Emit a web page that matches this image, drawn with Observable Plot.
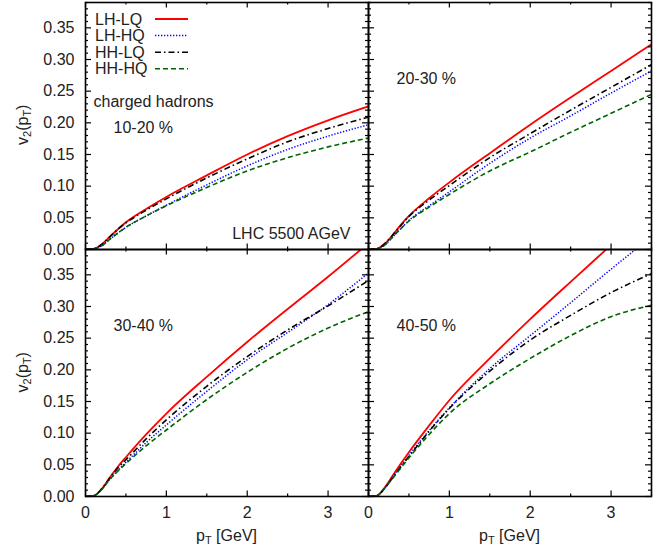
<!DOCTYPE html>
<html>
<head>
<meta charset="utf-8">
<script src="https://cdn.jsdelivr.net/npm/d3@7"></script>
<script src="https://cdn.jsdelivr.net/npm/@observablehq/plot@0.6"></script>
<style>
  body { margin: 0; background: white; }
</style>
</head>
<body>
<div id="chart"></div>
<script>
// ---------- data ----------
const pT = [0, 0.1, 0.2, 0.3, 0.4, 0.5, 0.75, 1, 1.5, 2, 2.5, 3, 3.5];
const seriesNames = ["LH-LQ", "LH-HQ", "HH-LQ", "HH-HQ"];
const centralities = ["10-20 %", "20-30 %", "30-40 %", "40-50 %"];

// 10-20 %
const lhlq_10_20 = [0, 0.001, 0.008, 0.020, 0.032, 0.043, 0.064, 0.083, 0.117, 0.150, 0.179, 0.204, 0.226];
const lhhq_10_20 = [0, 0.001, 0.006, 0.016, 0.026, 0.035, 0.053, 0.070, 0.102, 0.132, 0.158, 0.179, 0.197];
const hhlq_10_20 = [0, 0.001, 0.008, 0.020, 0.032, 0.042, 0.062, 0.080, 0.113, 0.143, 0.170, 0.191, 0.209];
const hhhq_10_20 = [0, 0.001, 0.006, 0.016, 0.026, 0.035, 0.053, 0.069, 0.098, 0.124, 0.145, 0.162, 0.176];
// 20-30 %
const lhlq_20_30 = [0, 0.001, 0.009, 0.023, 0.039, 0.053, 0.081, 0.106, 0.152, 0.197, 0.240, 0.282, 0.324];
const lhhq_20_30 = [0, 0.001, 0.007, 0.020, 0.033, 0.046, 0.069, 0.091, 0.136, 0.176, 0.211, 0.247, 0.282];
const hhlq_20_30 = [0, 0.001, 0.009, 0.023, 0.038, 0.052, 0.078, 0.101, 0.145, 0.183, 0.220, 0.256, 0.292];
const hhhq_20_30 = [0, 0.001, 0.007, 0.020, 0.033, 0.045, 0.067, 0.087, 0.124, 0.154, 0.185, 0.215, 0.245];
// 30-40 %
const lhlq_30_40 = [0, 0.001, 0.012, 0.030, 0.047, 0.062, 0.098, 0.131, 0.189, 0.244, 0.296, 0.347, 0.400];
const lhhq_30_40 = [0, 0.001, 0.011, 0.027, 0.041, 0.054, 0.085, 0.113, 0.166, 0.216, 0.259, 0.303, 0.353];
const hhlq_30_40 = [0, 0.001, 0.012, 0.029, 0.045, 0.058, 0.091, 0.121, 0.174, 0.221, 0.263, 0.301, 0.341];
const hhhq_30_40 = [0, 0.001, 0.011, 0.027, 0.040, 0.052, 0.080, 0.105, 0.153, 0.196, 0.234, 0.266, 0.292];
// 40-50 %
const lhlq_40_50 = [0, 0.001, 0.014, 0.033, 0.052, 0.070, 0.112, 0.152, 0.218, 0.280, 0.339, 0.397, 0.455];
const lhhq_40_50 = [0, 0.001, 0.013, 0.030, 0.048, 0.065, 0.104, 0.140, 0.202, 0.254, 0.306, 0.359, 0.410];
const hhlq_40_50 = [0, 0.001, 0.013, 0.030, 0.047, 0.063, 0.103, 0.139, 0.198, 0.247, 0.286, 0.322, 0.352];
const hhhq_40_50 = [0, 0.001, 0.013, 0.029, 0.045, 0.061, 0.098, 0.131, 0.178, 0.218, 0.254, 0.284, 0.302];

const xTickValues = [0, 1, 2, 3];
const xMinorValues = [0.5, 1.5, 2.5, 3.5];
const yTickValues = [0, 0.05, 0.10, 0.15, 0.20, 0.25, 0.30, 0.35];

// ---------- build table ----------
const panels = [
  {fx: "L", fy: "T", label: centralities[0], dx: 28, dy: 125, s: [lhlq_10_20, lhhq_10_20, hhlq_10_20, hhhq_10_20]},
  {fx: "R", fy: "T", label: centralities[1], dx: 28, dy: 76, s: [lhlq_20_30, lhhq_20_30, hhlq_20_30, hhhq_20_30]},
  {fx: "L", fy: "B", label: centralities[2], dx: 28, dy: 76.5, s: [lhlq_30_40, lhhq_30_40, hhlq_30_40, hhhq_30_40]},
  {fx: "R", fy: "B", label: centralities[3], dx: 28, dy: 76, s: [lhlq_40_50, lhhq_40_50, hhlq_40_50, hhhq_40_50]}
];
const rows = [];
panels.forEach(p => p.s.forEach((arr, si) => arr.forEach((v, i) =>
  rows.push({fx: p.fx, fy: p.fy, series: seriesNames[si], x: pT[i], y: v}))));

const styles = {
  "LH-LQ": {stroke: "#ff0000", dash: null, w: 1.8},
  "LH-HQ": {stroke: "#0000ff", dash: "1.3,1.7", w: 1.5},
  "HH-LQ": {stroke: "#000000", dash: "6,3,1.5,3", w: 1.6},
  "HH-HQ": {stroke: "#006400", dash: "5,3", w: 1.6}
};

const W = 665, H = 552, ML = 85, MR = 14, MT = 1, MB = 56;
const panelW = (W - ML - MR) / 2, panelH = (H - MT - MB) / 2;
const yMinor = d3.range(1, 40).map(i => i / 100).filter(v => Math.round(v * 100) % 5 !== 0);
const MAJ = 6, MIN = 3;

const lineMarks = seriesNames.map(name => Plot.line(rows.filter(r => r.series === name), {
  x: "x", y: "y", fx: "fx", fy: "fy", clip: true, curve: "monotone-x",
  stroke: styles[name].stroke, strokeWidth: styles[name].w,
  strokeDasharray: styles[name].dash, strokeLinecap: "butt"
}));

const tickMarks = [
  Plot.tickX(xTickValues, {x: d => d, insetTop: panelH - MAJ, stroke: "black", strokeWidth: 1.2}),
  Plot.tickX(xTickValues, {x: d => d, insetBottom: panelH - MAJ, stroke: "black", strokeWidth: 1.2}),
  Plot.tickX(xMinorValues, {x: d => d, insetTop: panelH - MIN, stroke: "black", strokeWidth: 1.2}),
  Plot.tickX(xMinorValues, {x: d => d, insetBottom: panelH - MIN, stroke: "black", strokeWidth: 1.2}),
  Plot.tickY(yTickValues, {y: d => d, insetRight: panelW - MAJ, stroke: "black", strokeWidth: 1.2}),
  Plot.tickY(yTickValues, {y: d => d, insetLeft: panelW - MAJ, stroke: "black", strokeWidth: 1.2}),
  Plot.tickY(yMinor, {y: d => d, insetRight: panelW - MIN, stroke: "black", strokeWidth: 1.2}),
  Plot.tickY(yMinor, {y: d => d, insetLeft: panelW - MIN, stroke: "black", strokeWidth: 1.2})
];

const labelMarks = panels.map(p => Plot.text([p.label], {
  fx: [p.fx], fy: [p.fy], text: d => d, frameAnchor: "top-left",
  textAnchor: "start", lineAnchor: "middle", dx: p.dx, dy: p.dy, fill: "#222"
}));

const plot = Plot.plot({
  width: W, height: H,
  marginLeft: ML, marginRight: MR, marginTop: MT, marginBottom: MB,
  style: "font-family: 'Liberation Sans', Arial, sans-serif; font-size: 16px; background: white; color: #222; overflow: visible;",
  fx: {domain: ["L", "R"], padding: 0, axis: null},
  fy: {domain: ["T", "B"], padding: 0, axis: null},
  x: {domain: [0, 3.5]},
  y: {domain: [0, 0.39]},
  marks: [
    ...lineMarks,
    ...tickMarks,
    Plot.frame({stroke: "black", strokeWidth: 1.6}),
    Plot.axisY({ticks: yTickValues, tickFormat: d3.format(".2f"), tickSize: 0, tickPadding: 11, label: null, fill: "#222"}),
    Plot.axisX({ticks: xTickValues, tickFormat: d3.format("d"), tickSize: 0, tickPadding: 10, label: null, fill: "#222"}),
    ...labelMarks,
    Plot.text(["charged hadrons"], {fx: ["L"], fy: ["T"], text: d => d, frameAnchor: "top-left",
      textAnchor: "start", lineAnchor: "middle", dx: 8, dy: 99, fill: "#222"}),
    Plot.text(["LHC 5500 AGeV"], {fx: ["L"], fy: ["T"], text: d => d, frameAnchor: "bottom-right",
      textAnchor: "end", lineAnchor: "middle", dx: -18, dy: -16, fill: "#222"})
  ]
});
document.getElementById("chart").appendChild(plot);

const svg = d3.select(plot);

// ---------- axis titles with subscripts ----------
const titleG = svg.append("g").attr("fill", "#222").style("font-size", "16px");
[MT + panelH / 2, MT + panelH * 1.5].forEach(cy => {
  const t = titleG.append("text").attr("transform", `translate(28,${cy}) rotate(-90)`).attr("text-anchor", "middle");
  t.append("tspan").text("v");
  t.append("tspan").attr("baseline-shift", "-30%").style("font-size", "11px").text("2");
  t.append("tspan").text("(p");
  t.append("tspan").attr("baseline-shift", "-30%").style("font-size", "11px").text("T");
  t.append("tspan").text(")");
});
[ML + panelW / 2, ML + panelW * 1.5].forEach(cx => {
  const t = titleG.append("text").attr("x", cx).attr("y", 541).attr("text-anchor", "middle");
  t.append("tspan").text("p");
  t.append("tspan").attr("baseline-shift", "-30%").style("font-size", "11px").text("T");
  t.append("tspan").text(" [GeV]");
});

// ---------- legend ----------
const legendG = svg.append("g").style("font-size", "16px").attr("text-anchor", "start");
seriesNames.forEach((name, i) => {
  const cy = 19 + i * 16.6;
  legendG.append("text").attr("x", 95).attr("y", cy).attr("dy", "0.35em")
    .attr("text-anchor", "start").attr("fill", "#222").text(name);
  legendG.append("line").attr("x1", 155).attr("x2", 188).attr("y1", cy).attr("y2", cy)
    .attr("stroke", styles[name].stroke).attr("stroke-width", styles[name].w)
    .attr("stroke-dasharray", styles[name].dash);
});
</script>
</body>
</html>
